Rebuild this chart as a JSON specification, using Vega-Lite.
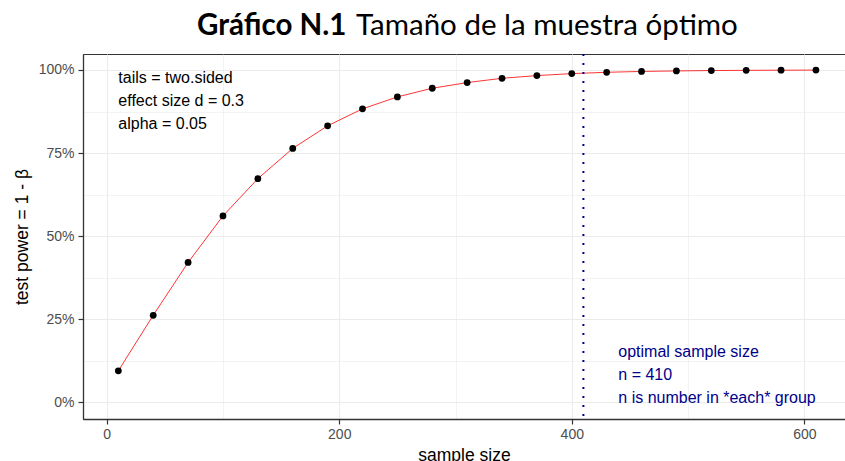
{
  "$schema": "https://vega.github.io/schema/vega-lite/v6.json",
  "width": 762,
  "height": 365,
  "autosize": {"type": "none"},
  "padding": {"left": 83, "top": 54, "right": 0, "bottom": 42},
  "background": "white",
  "title": {
    "text": "Gráfico N.1",
    "subtitle": "Tamaño de la muestra óptimo",
    "anchor": "start",
    "frame": "group",
    "font": "Lato",
    "fontSize": 29.5,
    "fontWeight": "bold",
    "color": "black",
    "subtitleFont": "Lato",
    "subtitleFontSize": 29.5,
    "subtitleFontWeight": "normal",
    "subtitleColor": "black",
    "subtitlePadding": -29.5,
    "dx": 273,
    "offset": 12,
    "encoding": {"dx": {"value": 114}}
  },
  "config": {
    "view": {"stroke": "#333333", "strokeWidth": 1},
    "axis": {
      "labelFont": "Liberation Sans",
      "labelFontSize": 14,
      "labelColor": "#4d4d4d",
      "titleFont": "Liberation Sans",
      "titleFontSize": 17.5,
      "titleFontWeight": "normal",
      "titleColor": "black",
      "domainColor": "#333333",
      "domainWidth": 1.3,
      "tickColor": "#333333",
      "tickWidth": 1.2,
      "tickSize": 5,
      "gridColor": "#ebebeb"
    },
    "text": {"lineBreak": "\n"}
  },
  "data": {
    "values": [
      {"n": 10, "power": 0.095},
      {"n": 40, "power": 0.262},
      {"n": 70, "power": 0.421},
      {"n": 100, "power": 0.561},
      {"n": 130, "power": 0.673},
      {"n": 160, "power": 0.764},
      {"n": 190, "power": 0.832},
      {"n": 220, "power": 0.883},
      {"n": 250, "power": 0.919},
      {"n": 280, "power": 0.945},
      {"n": 310, "power": 0.962},
      {"n": 340, "power": 0.975},
      {"n": 370, "power": 0.983},
      {"n": 400, "power": 0.989},
      {"n": 430, "power": 0.993},
      {"n": 460, "power": 0.9955},
      {"n": 490, "power": 0.9971},
      {"n": 520, "power": 0.9982},
      {"n": 550, "power": 0.9989},
      {"n": 580, "power": 0.9993},
      {"n": 610, "power": 0.9996}
    ]
  },
  "layer": [
    {
      "mark": {"type": "line", "color": "#ff0000", "strokeWidth": 0.8},
      "encoding": {
        "x": {
          "field": "n",
          "type": "quantitative",
          "scale": {"domain": [-20.4, 635], "nice": false, "zero": false},
          "axis": {
            "title": "sample size",
            "values": [0, 100, 200, 300, 400, 500, 600],
            "labelExpr": "datum.value % 200 === 0 ? datum.label : ''",
            "tickOpacity": {"condition": {"test": "datum.value % 200 !== 0", "value": 0}, "value": 1},
            "gridWidth": {"condition": {"test": "datum.value % 200 !== 0", "value": 0.6}, "value": 1.1},
            "labelPadding": 3,
            "titlePadding": 5
          }
        },
        "y": {
          "field": "power",
          "type": "quantitative",
          "scale": {"domain": [-0.05, 1.048], "nice": false, "zero": false},
          "axis": {
            "title": "test power = 1 - β",
            "values": [0, 0.125, 0.25, 0.375, 0.5, 0.625, 0.75, 0.875, 1],
            "format": ".0%",
            "labelExpr": "datum.value % 0.25 === 0 ? datum.label : ''",
            "tickOpacity": {"condition": {"test": "datum.value % 0.25 !== 0", "value": 0}, "value": 1},
            "gridWidth": {"condition": {"test": "datum.value % 0.25 !== 0", "value": 0.6}, "value": 1.1},
            "labelPadding": 4,
            "titlePadding": 7
          }
        }
      }
    },
    {
      "mark": {"type": "point", "filled": true, "color": "black", "opacity": 1, "size": 46},
      "encoding": {
        "x": {"field": "n", "type": "quantitative"},
        "y": {"field": "power", "type": "quantitative"}
      }
    },
    {
      "data": {"values": [{"n": 410}]},
      "mark": {"type": "rule", "color": "#00008b", "strokeWidth": 2, "strokeDash": [2, 7]},
      "encoding": {
        "x": {"field": "n", "type": "quantitative"}
      }
    },
    {
      "data": {"values": [{"n": 10, "power": 1, "label": "tails = two.sided\neffect size d = 0.3\nalpha = 0.05"}]},
      "mark": {"type": "text", "align": "left", "baseline": "top", "font": "Liberation Sans", "fontSize": 16, "lineHeight": 23, "color": "black"},
      "encoding": {
        "x": {"field": "n", "type": "quantitative"},
        "y": {"field": "power", "type": "quantitative"},
        "text": {"field": "label"}
      }
    },
    {
      "data": {"values": [{"n": 440, "power": 0, "label": "optimal sample size\nn = 410\nn is number in *each* group"}]},
      "mark": {"type": "text", "align": "left", "baseline": "bottom", "dy": -42, "font": "Liberation Sans", "fontSize": 16, "lineHeight": 23, "color": "#00008b"},
      "encoding": {
        "x": {"field": "n", "type": "quantitative"},
        "y": {"field": "power", "type": "quantitative"},
        "text": {"field": "label"}
      }
    }
  ]
}
